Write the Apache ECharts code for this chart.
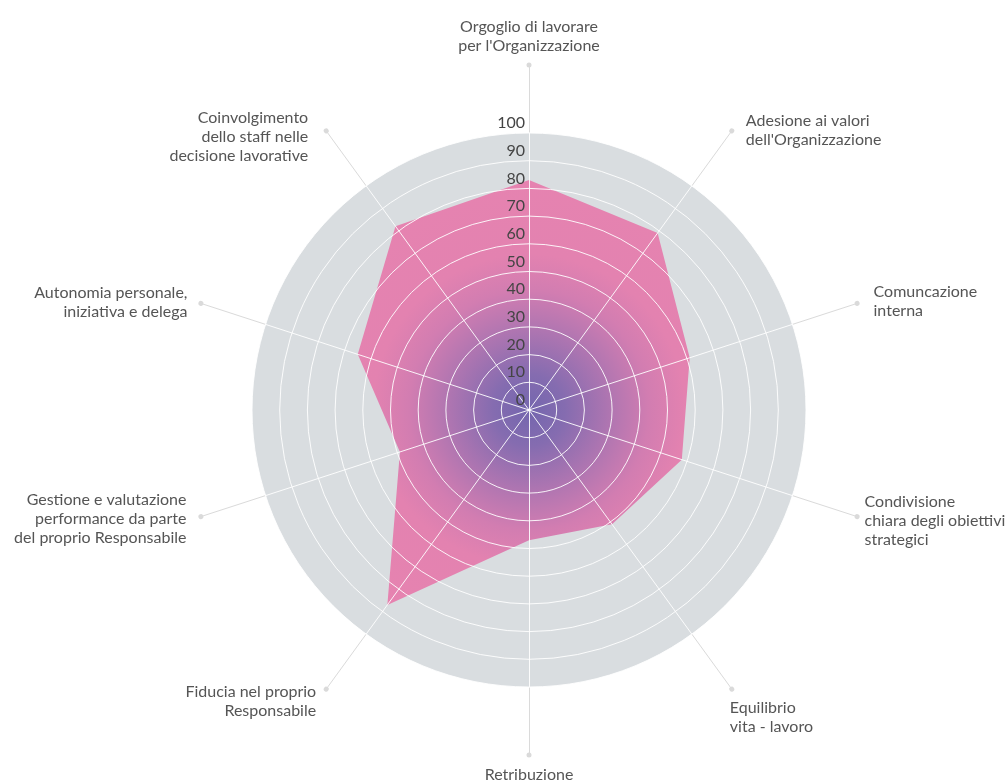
<!DOCTYPE html>
<html>
<head>
<meta charset="utf-8">
<script src="https://cdn.jsdelivr.net/npm/echarts@6/dist/echarts.min.js"></script>
<style>
  html, body { margin: 0; padding: 0; background: #fff; }
  #chart { width: 1006px; height: 781px; }
</style>
</head>
<body>
<div id="chart"></div>
<script>
// indicators in the order ECharts lays them out (from the top, counter-clockwise)
const categories = [
  'Orgoglio di lavorare\nper l\'Organizzazione',
  'Coinvolgimento\ndello staff nelle\ndecisione lavorative',
  'Autonomia personale,\niniziativa e delega',
  'Gestione e valutazione\nperformance da parte\ndel proprio Responsabile',
  'Fiducia nel proprio\nResponsabile',
  'Retribuzione',
  'Equilibrio\nvita - lavoro',
  'Condivisione\nchiara degli obiettivi\nstrategici',
  'Comuncazione\ninterna',
  'Adesione ai valori\ndell\'Organizzazione'
];
const scores = [83, 82, 65, 49, 87, 47, 51, 58, 61, 79];
const scaleMax = 100;
const scaleSteps = 10;

const center = [529, 410];
const radius = 277;
const fontFamily = 'Lato, "Open Sans", sans-serif';

// small nudges [dx, dy] for each name, to sit like the original layout
const nameNudge = [
  [0, 2], [-11, 16], [-2, 3], [-3, -1], [-3, 3],
  [0, -2], [-9, 19], [-4, 1], [5, 2], [7, 9]
];

const nameRich = {};
nameNudge.forEach(([dx, dy], i) => {
  const leftSide = i >= 1 && i <= 4;   // right-aligned names
  const rightSide = i >= 6;            // left-aligned names
  nameRich['n' + i] = {
    color: '#555',
    fontFamily: fontFamily,
    fontSize: 16,
    lineHeight: 19,
    padding: [
      dy > 0 ? 2 * dy : 0,
      leftSide && dx < 0 ? -dx : 0,
      dy < 0 ? -2 * dy : 0,
      rightSide ? dx : 0
    ]
  };
});

const chart = echarts.init(document.getElementById('chart'));

const option = {
  backgroundColor: '#fff',
  radar: [
    // outer ring: grey spokes ending in a dot, and the names
    {
      center: center,
      radius: 345,
      z: 0,
      indicator: categories.map(name => ({ name: name, max: scaleMax })),
      splitNumber: 1,
      shape: 'circle',
      nameGap: 12,
      axisName: {
        color: '#555',
        fontFamily: fontFamily,
        fontSize: 16,
        lineHeight: 19,
        formatter: function (name) {
          const i = categories.indexOf(name);
          return name.split('\n').map(line => '{n' + i + '|' + line + '}').join('\n');
        },
        rich: nameRich
      },
      axisLine: {
        symbol: ['none', 'circle'],
        symbolSize: [5, 5],
        lineStyle: { color: '#dadada', width: 1 }
      },
      splitLine: { show: false },
      splitArea: { show: false }
    },
    // grey disc under the data
    {
      center: center,
      radius: radius,
      z: 1,
      indicator: categories.map(() => ({ max: scaleMax })),
      splitNumber: scaleSteps,
      shape: 'circle',
      axisName: { show: false },
      axisLine: { show: false },
      splitLine: { show: false },
      splitArea: {
        show: true,
        areaStyle: { color: ['#d9dde0'] }
      }
    },
    // white rings, spokes and scale drawn over the data
    {
      center: center,
      radius: radius,
      z: 5,
      indicator: categories.map((_, i) => i === 0
        ? {
            max: scaleMax,
            axisLabel: {
              show: true,
              color: '#444',
              fontFamily: fontFamily,
              fontSize: 16,
              align: 'right',
              verticalAlign: 'bottom',
              margin: 4,
              padding: [0, 0, 2, 0]
            }
          }
        : { max: scaleMax }),
      splitNumber: scaleSteps,
      shape: 'circle',
      axisName: { show: false },
      axisLabel: { show: false },
      axisLine: { lineStyle: { color: 'rgba(255,255,255,0.9)', width: 1 } },
      splitLine: { lineStyle: { color: 'rgba(255,255,255,0.9)', width: 1 } },
      splitArea: { show: false }
    }
  ],
  series: [
    {
      type: 'radar',
      radarIndex: 1,
      z: 2,
      symbol: 'none',
      silent: true,
      lineStyle: { width: 0 },
      areaStyle: {
        opacity: 1,
        color: {
          type: 'radial',
          x: center[0],
          y: center[1],
          r: 240,
          global: true,
          colorStops: [
            { offset: 0, color: '#7466ae' },
            { offset: 0.15, color: '#856cb0' },
            { offset: 0.35, color: '#b276b1' },
            { offset: 0.5, color: '#d27db1' },
            { offset: 0.65, color: '#e382b0' },
            { offset: 1, color: '#e683b0' }
          ]
        }
      },
      data: [{ value: scores }]
    }
  ]
};

chart.setOption(option);
</script>
</body>
</html>
